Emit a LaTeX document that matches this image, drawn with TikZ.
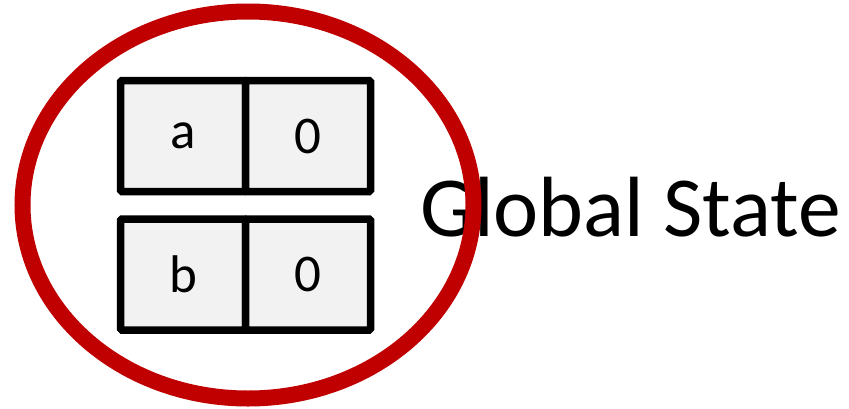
\documentclass[tikz,border=0pt]{standalone}
\usepackage{fontspec}
\newfontfamily\carl{Carlito}
\definecolor{ringred}{HTML}{C00000}
\definecolor{cellgray}{HTML}{F2F2F2}
\tikzset{
  cell/.style={draw=black, line width=7.5pt, fill=cellgray, rounded corners=1.5pt,
    minimum width=125pt, minimum height=111pt, inner sep=0pt, outer sep=0pt,
    font=\carl\fontsize{53}{56}\selectfont},
  ring/.style={draw=ringred, line width=16pt},
}
\begin{document}
\begin{tikzpicture}[x=1pt,y=-1pt]
\useasboundingbox (0,0) rectangle (849,408);
\node[anchor=base west, inner sep=0pt, font=\carl\fontsize{85.5}{90}\selectfont] (lbl) at (420,236) {Global State};
\node[cell] (a) at (183,136) {a};
\node[cell] (av) at (308,136) {0};
\node[cell] (b) at (183,274.5) {b};
\node[cell] (bv) at (308,274.5) {0};
\draw[ring] (248,205) ellipse [x radius=225.5, y radius=193.5];
\end{tikzpicture}
\end{document}
